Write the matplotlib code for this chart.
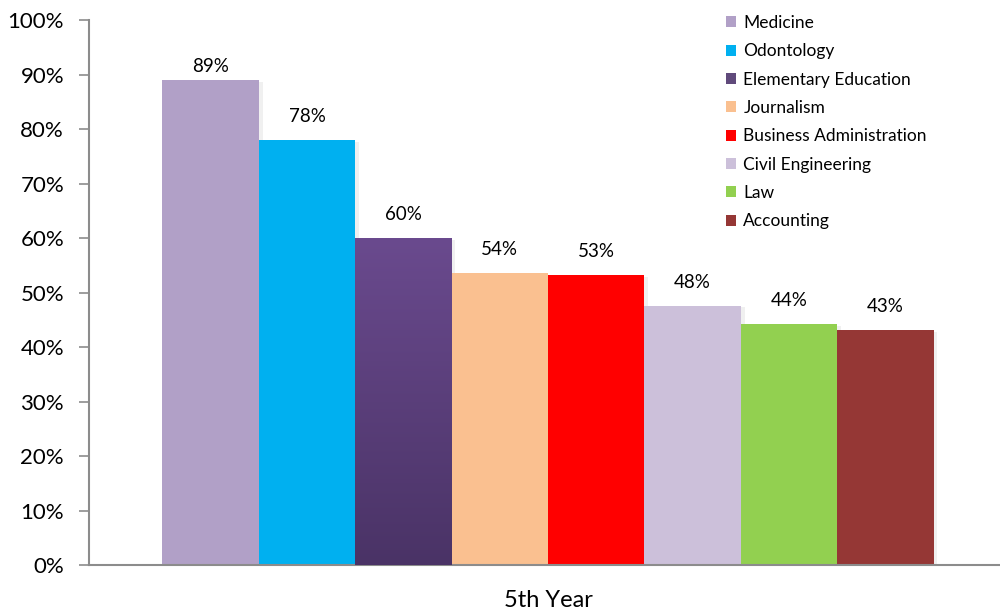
import numpy as np
import matplotlib.pyplot as plt
from matplotlib.patches import Patch
from matplotlib.colors import LinearSegmentedColormap

plt.rcParams['font.family'] = ['Lato', 'DejaVu Sans']

programs = ['Medicine', 'Odontology', 'Elementary Education', 'Journalism',
            'Business Administration', 'Civil Engineering', 'Law', 'Accounting']
shares = [89, 78, 60, 53.6, 53.2, 47.6, 44.2, 43.1]
colors = ['#B1A0C7', '#00B0F0', '#604A7B', '#FAC090',
          '#FF0000', '#CCC0DA', '#92D050', '#953735']
group_label = '5th Year'
yticks = list(range(0, 101, 10))

fig = plt.figure(figsize=(10, 6.14), dpi=100)
ax = fig.add_axes([0.089, 0.0798, 0.918, 0.8876])

n = len(programs)
centers = np.arange(n) - (n - 1) / 2
bars = ax.bar(centers, shares, width=1.0, color=colors, edgecolor='none', zorder=2)

# soft shading to the right of each bar
for b in bars:
    ax.bar(b.get_x() + b.get_width() / 2 + 0.04, b.get_height(), width=1.0,
           bottom=-0.3, color='#000000', alpha=0.06, edgecolor='none', zorder=1)

# vertical gradient on the Elementary Education bar
grad = LinearSegmentedColormap.from_list('edu', ['#4A3366', '#6A4A8E'])
eb = bars[2]
x0, w, h = eb.get_x(), eb.get_width(), eb.get_height()
img = ax.imshow(np.linspace(0, 1, 256).reshape(-1, 1), cmap=grad, origin='lower',
                extent=[x0, x0 + w, 0, h], aspect='auto', zorder=3)
img.set_clip_path(eb)

# value labels sit above the bars, but never above the plot area's label ceiling
for c, v in zip(centers, shares):
    ax.text(c, min(v + 4.3, 91.4), f'{v:.0f}%', ha='center', va='center',
            fontsize=13.5, color='#000000', zorder=4)

ax.set_xlim(-459 / 96.4, 459 / 96.4)
ax.set_ylim(0, 100)
ax.set_yticks(yticks)
ax.set_yticklabels([f'{t}%' for t in yticks], fontsize=16)
ax.set_xticks([0])
ax.set_xticklabels([group_label], fontsize=17)
ax.tick_params(axis='x', length=0, pad=18)
ax.tick_params(axis='y', length=7, width=1.2, color='#8C8C8C', pad=11)

for s in ['top', 'right']:
    ax.spines[s].set_visible(False)
for s in ['left', 'bottom']:
    ax.spines[s].set_color('#8C8C8C')
    ax.spines[s].set_linewidth(1.5)

handles = [Patch(facecolor=c, edgecolor='none') for c in colors]
leg = fig.legend(handles, programs, loc='upper left', bbox_to_anchor=(0.719, 0.987),
                 frameon=False, fontsize=12.5, handlelength=0.6, handleheight=0.6,
                 handletextpad=0.4, labelspacing=0.71, borderaxespad=0)

fig.savefig('out.png', dpi=100)
